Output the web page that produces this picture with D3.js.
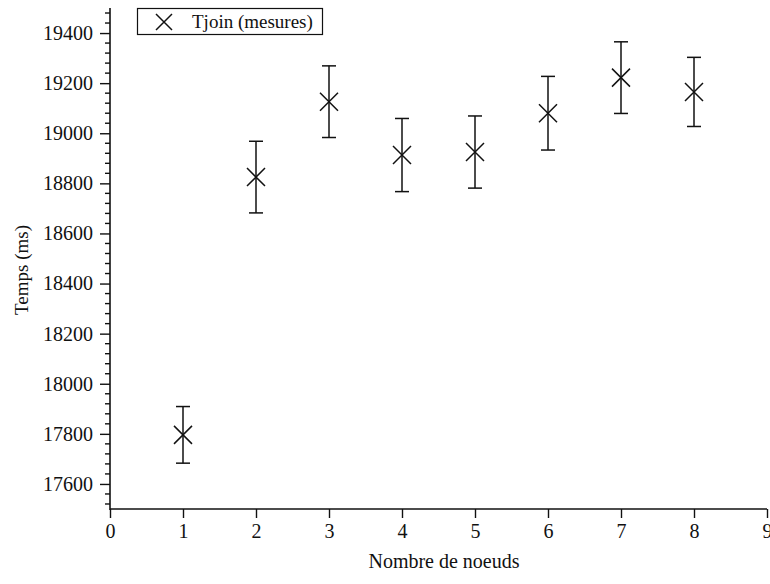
<!DOCTYPE html>
<html><head><meta charset="utf-8">
<script src="https://cdn.jsdelivr.net/npm/d3@7"></script>
<style>body{margin:0;background:#fff}svg{display:block}text{font-family:"Liberation Serif","Times New Roman",serif;fill:#111}</style>
</head><body><svg id="c" width="770" height="584"></svg>
<script>
const nodes = [1, 2, 3, 4, 5, 6, 7, 8];
const tjoin = [17796, 18825, 19126, 18913, 18925, 19080, 19222, 19165];
const errors = [113, 143, 143, 146, 144, 147, 143, 138];
const xTicks = [0, 1, 2, 3, 4, 5, 6, 7, 8, 9];
const yTicks = [17600, 17800, 18000, 18200, 18400, 18600, 18800, 19000, 19200, 19400];
const legendLabel = "Tjoin (mesures)";
const xTitle = "Nombre de noeuds";
const yTitle = "Temps (ms)";

const svg = d3.select("#c");
const x = d3.scaleLinear().domain([0, 9]).range([110, 767]);
const y = d3.scaleLinear().domain([17500, 19500]).range([509, 8]);
const ink = "#111";

// minor y ticks
const minor = d3.range(17520, 19500, 40).filter(v => !yTicks.includes(v));
svg.append("g").selectAll("line").data(minor).join("line")
  .attr("x1", 105).attr("x2", 110)
  .attr("y1", d => y(d)).attr("y2", d => y(d))
  .attr("stroke", ink).attr("stroke-width", 1.4);

// y axis
const gy = svg.append("g").attr("transform", "translate(110,0)")
  .call(d3.axisLeft(y).tickValues(yTicks).tickSize(10).tickPadding(7).tickFormat(d3.format("d")));
gy.select(".domain").attr("d", `M0,${y(19500)}V${y(17500)+1}`).attr("stroke", ink).attr("stroke-width", 1.6);
gy.selectAll(".tick line").attr("stroke", ink).attr("stroke-width", 1.4);
gy.selectAll(".tick text").attr("font-size", 20).attr("font-family", "Liberation Serif").attr("fill", ink);

// x axis
const gx = svg.append("g").attr("transform", `translate(0,${y(17500)})`)
  .call(d3.axisBottom(x).tickValues(xTicks).tickSize(9).tickPadding(6).tickFormat(d3.format("d")));
gx.select(".domain").attr("d", `M${x(0)},0H${x(9)}`).attr("stroke", ink).attr("stroke-width", 1.6);
gx.selectAll(".tick line").attr("stroke", ink).attr("stroke-width", 1.4);
gx.selectAll(".tick text").attr("font-size", 20).attr("font-family", "Liberation Serif").attr("fill", ink);

// titles
svg.append("text").attr("x", 444).attr("y", 568).attr("text-anchor", "middle")
  .attr("font-size", 20).text(xTitle);
svg.append("text").attr("transform", "translate(28,270) rotate(-90)").attr("text-anchor", "middle")
  .attr("font-size", 19).text(yTitle);

// error bars
const data = nodes.map((n, i) => ({n, v: tjoin[i], e: errors[i]}));
const eb = svg.append("g").attr("stroke", ink).attr("stroke-width", 1.5).attr("fill", "none");
eb.selectAll(".v").data(data).join("line")
  .attr("x1", d => x(d.n)).attr("x2", d => x(d.n))
  .attr("y1", d => y(d.v + d.e)).attr("y2", d => y(d.v - d.e));
eb.selectAll(".t").data(data).join("line")
  .attr("x1", d => x(d.n) - 7).attr("x2", d => x(d.n) + 7)
  .attr("y1", d => y(d.v + d.e)).attr("y2", d => y(d.v + d.e));
eb.selectAll(".b").data(data).join("line")
  .attr("x1", d => x(d.n) - 7).attr("x2", d => x(d.n) + 7)
  .attr("y1", d => y(d.v - d.e)).attr("y2", d => y(d.v - d.e));

// X markers
const r = 9;
const cross = (cx, cy) => `M${cx-r},${cy-r}L${cx+r},${cy+r}M${cx-r},${cy+r}L${cx+r},${cy-r}`;
svg.append("g").selectAll("path").data(data).join("path")
  .attr("d", d => cross(x(d.n), y(d.v)))
  .attr("stroke", ink).attr("stroke-width", 1.5).attr("fill", "none");

// legend
const lg = svg.append("g");
lg.append("rect").attr("x", 137.5).attr("y", 8.5).attr("width", 185).attr("height", 26)
  .attr("fill", "#fff").attr("stroke", ink).attr("stroke-width", 1.2);
lg.append("path").attr("d", `M156,14L172,30M156,30L172,14`).attr("stroke", ink).attr("stroke-width", 1.5);
lg.append("text").attr("x", 192).attr("y", 28).attr("font-size", 19).text(legendLabel);
</script></body></html>
